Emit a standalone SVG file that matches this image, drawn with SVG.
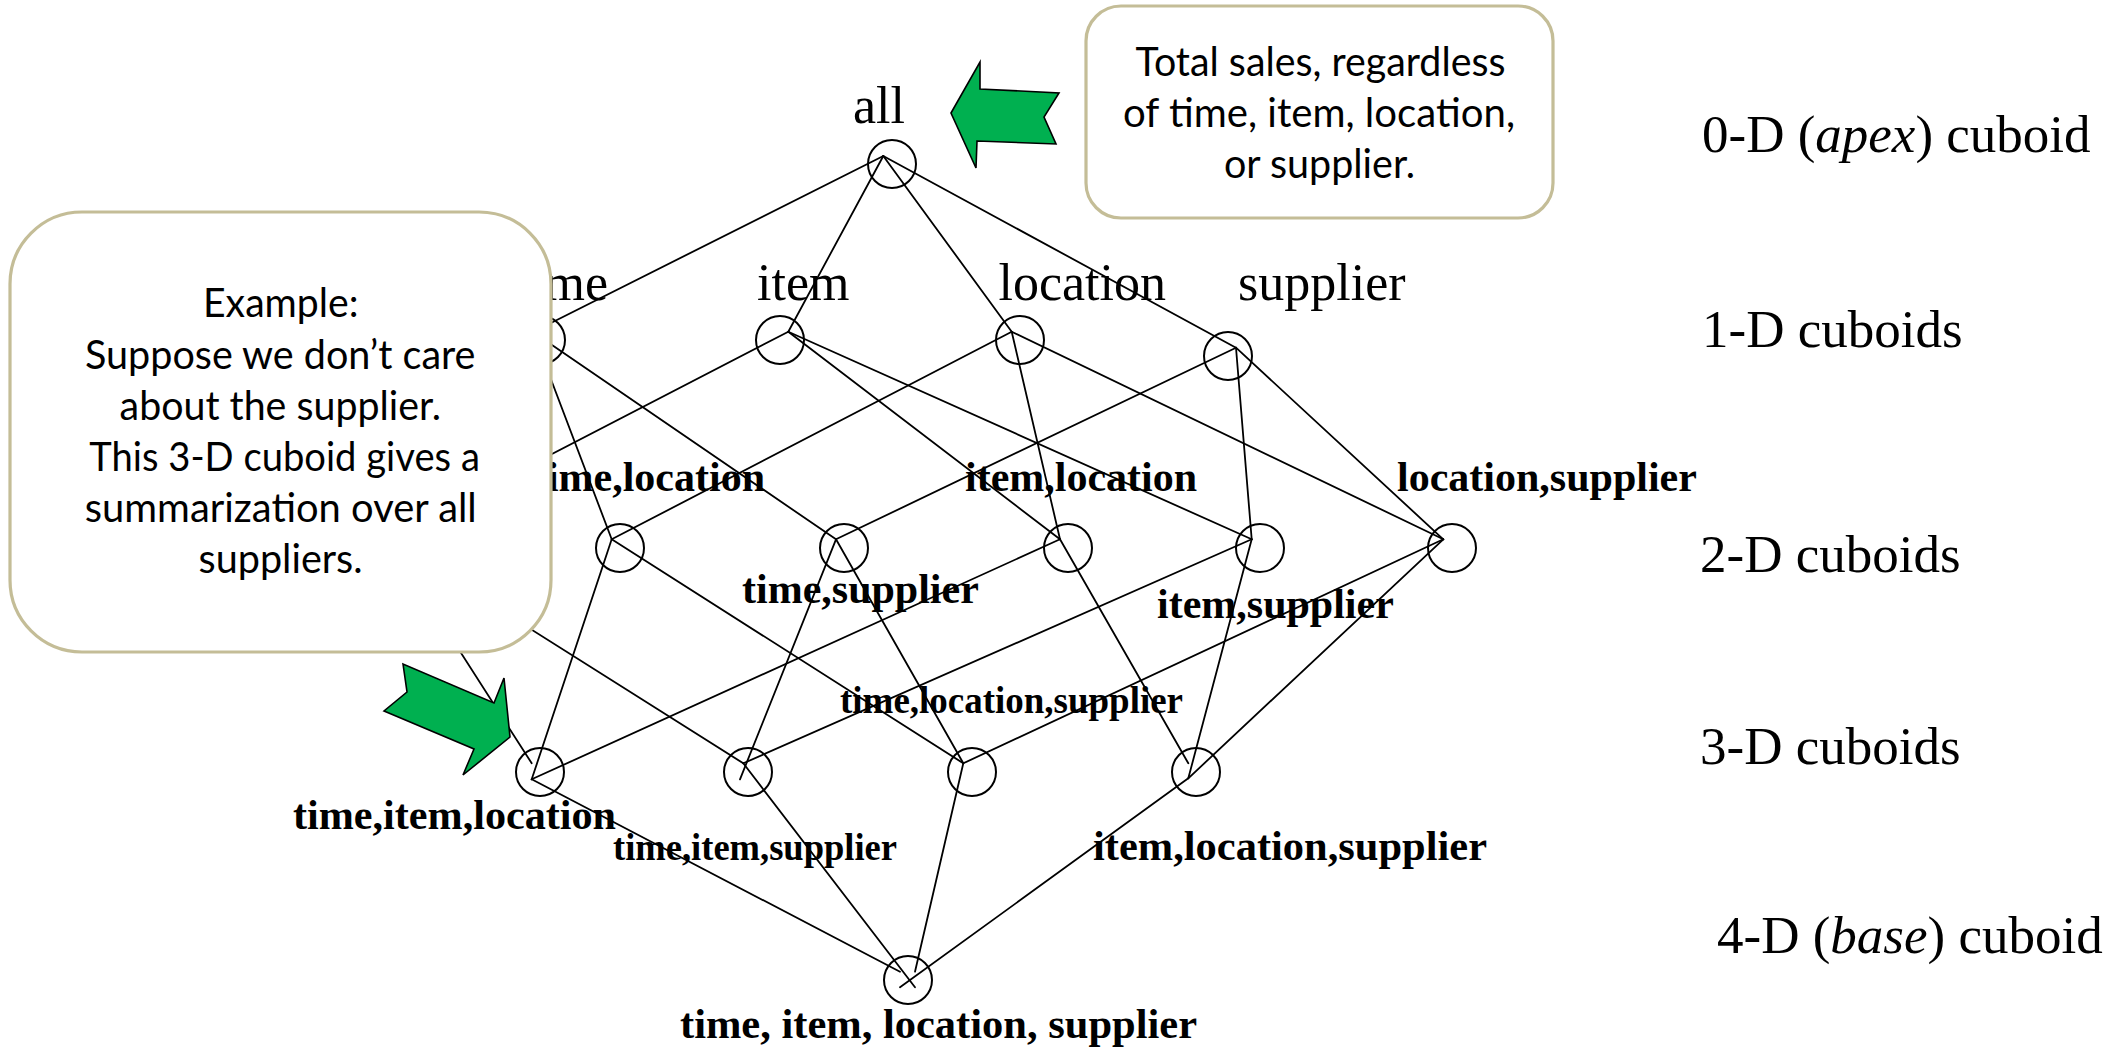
<svg xmlns="http://www.w3.org/2000/svg" width="2110" height="1049" viewBox="0 0 2110 1049">
  <style>
    .edge { stroke: #000; stroke-width: 1.8; fill: none; stroke-linecap: round; }
    .cell { fill: none; stroke: #000; stroke-width: 2; }
    .lbl1 { font-family: "Liberation Serif", "Times New Roman", serif; font-size: 52px; fill: #000; }
    .lbl2 { font-family: "Liberation Serif", "Times New Roman", serif; font-size: 42px; font-weight: bold; fill: #000; }
    .lbl3 { font-family: "Liberation Serif", "Times New Roman", serif; font-size: 37px; font-weight: bold; fill: #000; }
    .level { font-family: "Liberation Serif", "Times New Roman", serif; font-size: 53px; fill: #000; }
    .note { fill: #fff; stroke: #C4BD97; stroke-width: 3.2; }
    .noteText { font-family: Lato, "Open Sans", "Liberation Sans", sans-serif; font-size: 40px; fill: #000; }
    .pointer { fill: #00B050; stroke: #000; stroke-width: 1.6; stroke-linejoin: miter; }
  </style>

  <rect width="2110" height="1049" fill="#fff"/>

  <!-- lattice edges -->
  <g id="connectors">
    <!-- apex to 1-D -->
    <line class="edge" x1="883.3" y1="156" x2="533" y2="332"/>
    <line class="edge" x1="883.3" y1="156" x2="788.3" y2="331.7"/>
    <line class="edge" x1="883.3" y1="156" x2="1011.7" y2="331.7"/>
    <line class="edge" x1="883.3" y1="156" x2="1236" y2="347.7"/>
    <!-- 1-D to 2-D -->
    <line class="edge" x1="533" y1="332" x2="388" y2="539"/>
    <line class="edge" x1="533" y1="332" x2="611.7" y2="539.3"/>
    <line class="edge" x1="533" y1="332" x2="836" y2="539.3"/>
    <line class="edge" x1="788.3" y1="331.7" x2="388" y2="539"/>
    <line class="edge" x1="788.3" y1="331.7" x2="1060" y2="539.3"/>
    <line class="edge" x1="788.3" y1="331.7" x2="1251.7" y2="539.3"/>
    <line class="edge" x1="1011.7" y1="331.7" x2="611.7" y2="539.3"/>
    <line class="edge" x1="1011.7" y1="331.7" x2="1060" y2="539.3"/>
    <line class="edge" x1="1011.7" y1="331.7" x2="1443.3" y2="539.3"/>
    <line class="edge" x1="1236" y1="347.7" x2="836" y2="539.3"/>
    <line class="edge" x1="1236" y1="347.7" x2="1251.7" y2="539.3"/>
    <line class="edge" x1="1236" y1="347.7" x2="1443.3" y2="539.3"/>
    <!-- 2-D to 3-D -->
    <line class="edge" x1="388" y1="539" x2="531.7" y2="763.3"/>
    <line class="edge" x1="388" y1="539" x2="743.3" y2="763.3"/>
    <line class="edge" x1="611.7" y1="539.3" x2="531.7" y2="779.3"/>
    <line class="edge" x1="611.7" y1="539.3" x2="963.3" y2="763.3"/>
    <line class="edge" x1="836" y1="539.3" x2="740" y2="779.3"/>
    <line class="edge" x1="836" y1="539.3" x2="963.3" y2="763.3"/>
    <line class="edge" x1="1060" y1="539.3" x2="531.7" y2="779.3"/>
    <line class="edge" x1="1060" y1="539.3" x2="1188.3" y2="763.3"/>
    <line class="edge" x1="1251.7" y1="539.3" x2="743.3" y2="763.3"/>
    <line class="edge" x1="1251.7" y1="539.3" x2="1188.3" y2="778.3"/>
    <line class="edge" x1="1443.3" y1="539.3" x2="963.3" y2="763.3"/>
    <line class="edge" x1="1443.3" y1="539.3" x2="1188.3" y2="778.3"/>
    <!-- 3-D to base -->
    <line class="edge" x1="531.7" y1="779.3" x2="900" y2="971.7"/>
    <line class="edge" x1="743.3" y1="763.3" x2="915" y2="987.3"/>
    <line class="edge" x1="963.3" y1="763.3" x2="915" y2="971.7"/>
    <line class="edge" x1="1188.3" y1="778.3" x2="900" y2="987.3"/>
  </g>

  <!-- 0-D -->
  <g id="node-all">
    <circle class="cell" cx="892" cy="164" r="24"/>
    <text class="lbl1" x="879" y="123" text-anchor="middle">all</text>
  </g>

  <!-- 1-D -->
  <g id="node-time">
    <circle class="cell" cx="541" cy="340" r="24"/>
    <text class="lbl1" x="608" y="300" text-anchor="end">time</text>
  </g>
  <g id="node-item">
    <circle class="cell" cx="780" cy="340" r="24"/>
    <text class="lbl1" x="757" y="300">item</text>
  </g>
  <g id="node-location">
    <circle class="cell" cx="1020" cy="340" r="24"/>
    <text class="lbl1" x="1166" y="300" text-anchor="end">location</text>
  </g>
  <g id="node-supplier">
    <circle class="cell" cx="1228" cy="356" r="24"/>
    <text class="lbl1" x="1238" y="300">supplier</text>
  </g>

  <!-- 2-D -->
  <g id="node-time-item">
    <circle class="cell" cx="396" cy="548" r="24"/>
  </g>
  <g id="node-time-location">
    <circle class="cell" cx="620" cy="548" r="24"/>
    <text class="lbl2" x="765" y="491" text-anchor="end">time,location</text>
  </g>
  <g id="node-time-supplier">
    <circle class="cell" cx="844" cy="548" r="24"/>
    <text class="lbl2" x="742" y="603">time,supplier</text>
  </g>
  <g id="node-item-location">
    <circle class="cell" cx="1068" cy="548" r="24"/>
    <text class="lbl2" x="965" y="491">item,location</text>
  </g>
  <g id="node-item-supplier">
    <circle class="cell" cx="1260" cy="548" r="24"/>
    <text class="lbl2" x="1157" y="618">item,supplier</text>
  </g>
  <g id="node-location-supplier">
    <circle class="cell" cx="1452" cy="548" r="24"/>
    <text class="lbl2" x="1397" y="491">location,supplier</text>
  </g>

  <!-- 3-D -->
  <g id="node-time-item-location">
    <circle class="cell" cx="540" cy="772" r="24"/>
    <text class="lbl2" x="293" y="829" textLength="323" lengthAdjust="spacingAndGlyphs">time,item,location</text>
  </g>
  <g id="node-time-item-supplier">
    <circle class="cell" cx="748" cy="772" r="24"/>
    <text class="lbl3" x="613" y="860" textLength="284" lengthAdjust="spacingAndGlyphs">time,item,supplier</text>
  </g>
  <g id="node-time-location-supplier">
    <circle class="cell" cx="972" cy="772" r="24"/>
    <text class="lbl3" x="840" y="713" textLength="343" lengthAdjust="spacingAndGlyphs">time,location,supplier</text>
  </g>
  <g id="node-item-location-supplier">
    <circle class="cell" cx="1196" cy="772" r="24"/>
    <text class="lbl2" x="1093" y="860" textLength="394" lengthAdjust="spacingAndGlyphs">item,location,supplier</text>
  </g>

  <!-- 4-D -->
  <g id="node-base">
    <circle class="cell" cx="908" cy="980" r="24"/>
    <text class="lbl2" x="680" y="1038" textLength="517" lengthAdjust="spacingAndGlyphs">time, item, location, supplier</text>
  </g>

  <!-- level captions -->
  <g id="levels">
    <text class="level" x="1702" y="152">0-D (<tspan font-style="italic">apex</tspan>) cuboid</text>
    <text class="level" x="1702" y="347">1-D cuboids</text>
    <text class="level" x="1700" y="572">2-D cuboids</text>
    <text class="level" x="1700" y="764">3-D cuboids</text>
    <text class="level" x="1717" y="953">4-D (<tspan font-style="italic">base</tspan>) cuboid</text>
  </g>

  <!-- pointer arrows -->
  <g id="pointer-apex">
    <polygon class="pointer" points="951,113 980,62 980,89 1059,93 1044,117 1056,144 977,141 976,168"/>
  </g>
  <g id="pointer-3d">
    <polygon class="pointer" points="403,664 407,692 384,711 474,749 463,775 510,737 504,678 494,703"/>
  </g>

  <!-- callouts -->
  <g id="callout-apex">
    <rect class="note" x="1086" y="6" width="467" height="212" rx="35" ry="35"/>
    <text class="noteText" x="1135.5" y="76" textLength="370" lengthAdjust="spacingAndGlyphs">Total sales, regardless</text>
    <text class="noteText" x="1123" y="127" textLength="392" lengthAdjust="spacingAndGlyphs">of time, item, location,</text>
    <text class="noteText" x="1224" y="178" textLength="191" lengthAdjust="spacingAndGlyphs">or supplier.</text>
  </g>
  <g id="callout-example">
    <rect class="note" x="10" y="212" width="541" height="440" rx="72" ry="72"/>
    <text class="noteText" x="203" y="317" textLength="155.5" lengthAdjust="spacingAndGlyphs">Example:</text>
    <text class="noteText" x="85" y="368.5" textLength="390.5" lengthAdjust="spacingAndGlyphs">Suppose we don’t care</text>
    <text class="noteText" x="119.6" y="420" textLength="321.4" lengthAdjust="spacingAndGlyphs">about the supplier.</text>
    <text class="noteText" x="89.3" y="471" textLength="390.6" lengthAdjust="spacingAndGlyphs">This 3-D cuboid gives a</text>
    <text class="noteText" x="84.8" y="522" textLength="392" lengthAdjust="spacingAndGlyphs">summarization over all</text>
    <text class="noteText" x="198.6" y="573" textLength="164" lengthAdjust="spacingAndGlyphs">suppliers.</text>
  </g>
</svg>
